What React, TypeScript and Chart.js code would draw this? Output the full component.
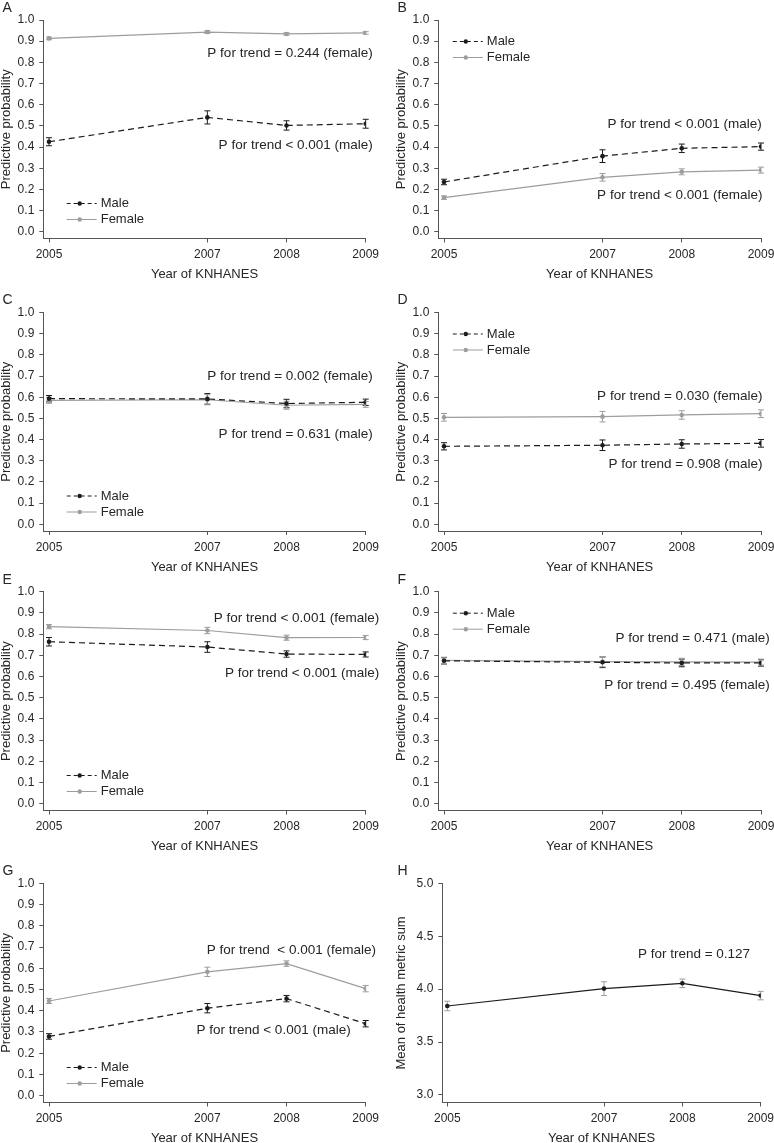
import React, { useEffect, useRef } from "react";
import { Chart, registerables } from "chart.js";

Chart.register(...registerables);

// ---------------- data ----------------
const YEARS = [2005, 2007, 2008, 2009];
const PROB_TICKS = [0, 0.1, 0.2, 0.3, 0.4, 0.5, 0.6, 0.7, 0.8, 0.9, 1.0];
const MEAN_TICKS = [3.0, 3.5, 4.0, 4.5, 5.0];

const maleA = [0.425, 0.54, 0.502, 0.51];
const maleAErr = [0.019, 0.031, 0.022, 0.021];
const femaleA = [0.913, 0.943, 0.934, 0.939];
const femaleAErr = [0.006, 0.007, 0.006, 0.006];

const maleB = [0.235, 0.357, 0.394, 0.402];
const maleBErr = [0.013, 0.03, 0.02, 0.017];
const femaleB = [0.161, 0.257, 0.283, 0.291];
const femaleBErr = [0.008, 0.018, 0.014, 0.014];

const maleC = [0.593, 0.592, 0.57, 0.576];
const maleCErr = [0.015, 0.025, 0.02, 0.015];
const femaleC = [0.585, 0.588, 0.562, 0.566];
const femaleCErr = [0.014, 0.024, 0.019, 0.014];

const maleD = [0.368, 0.373, 0.379, 0.382];
const maleDErr = [0.017, 0.025, 0.02, 0.018];
const femaleD = [0.505, 0.508, 0.516, 0.522];
const femaleDErr = [0.018, 0.025, 0.02, 0.018];

const maleE = [0.764, 0.739, 0.706, 0.704];
const maleEErr = [0.02, 0.025, 0.015, 0.012];
const femaleE = [0.835, 0.817, 0.783, 0.784];
const femaleEErr = [0.01, 0.015, 0.012, 0.01];

const maleF = [0.674, 0.667, 0.664, 0.664];
const maleFErr = [0.015, 0.025, 0.018, 0.015];
const femaleF = [0.676, 0.67, 0.669, 0.668];
const femaleFErr = [0.015, 0.024, 0.017, 0.014];

const maleG = [0.279, 0.412, 0.457, 0.339];
const maleGErr = [0.013, 0.022, 0.015, 0.015];
const femaleG = [0.446, 0.583, 0.622, 0.504];
const femaleGErr = [0.012, 0.022, 0.013, 0.015];

const meanH = [3.841, 4.005, 4.055, 3.939];
const meanHErr = [0.045, 0.065, 0.04, 0.04];

const NOTES_A = ["P for trend = 0.244 (female)", "P for trend < 0.001 (male)"];
const NOTES_B = ["P for trend < 0.001 (male)", "P for trend < 0.001 (female)"];
const NOTES_C = ["P for trend = 0.002 (female)", "P for trend = 0.631 (male)"];
const NOTES_D = ["P for trend = 0.030 (female)", "P for trend = 0.908 (male)"];
const NOTES_E = ["P for trend < 0.001 (female)", "P for trend < 0.001 (male)"];
const NOTES_F = ["P for trend = 0.471 (male)", "P for trend = 0.495 (female)"];
const NOTES_G = ["P for trend  < 0.001 (female)", "P for trend < 0.001 (male)"];
const NOTES_H = ["P for trend = 0.127"];

// ---------------- styles / layout ----------------
const FONT = "'Liberation Sans', Arial, Helvetica, sans-serif";
const MALE_COLOR = "#1c1c1c";
const FEMALE_COLOR = "#9d9d9d";
const AXIS_COLOR = "#555555";
const TEXT_COLOR = "#262626";
const PROB_TITLE = "Predictive probability";
const X_TITLE = "Year of KNHANES";

type Series = {
  values: number[];
  errors: number[];
  color: string;
  errColor: string;
  dash: number[];
  label: string;
};
type Note = { text: string; x: number; y: number };
type Panel = {
  letter: string;
  canvasLeft: number;
  canvasWidth: number;
  left: number;
  right: number;
  top: number;
  bottom: number;
  xMin: number;
  yMin: number;
  yMax: number;
  yTicks: number[];
  yTitle: string;
  series: Series[];
  notes: Note[];
  legend: null | { at: "top" | "bottom"; dx: number };
};

const COL0 = { canvasLeft: 0, canvasWidth: 388, left: 43.3, right: 365.7 };
const COL1 = { canvasLeft: 395, canvasWidth: 379, left: 438.3, right: 761 };
const ROWS = [
  { top: 20, bottom: 238.5 },
  { top: 312.5, bottom: 531 },
  { top: 591.7, bottom: 810.5 },
  { top: 883.3, bottom: 1102.5 },
];
const X_MIN = 2004.928;
const P_MIN = -0.032;

function mf(m: number[], me: number[], f: number[], fe: number[]): Series[] {
  return [
    { values: m, errors: me, color: MALE_COLOR, errColor: MALE_COLOR, dash: [6, 4], label: "Male" },
    { values: f, errors: fe, color: FEMALE_COLOR, errColor: FEMALE_COLOR, dash: [], label: "Female" },
  ];
}

function probPanel(
  letter: string,
  col: typeof COL0,
  row: (typeof ROWS)[number],
  series: Series[],
  notes: Note[],
  legend: { at: "top" | "bottom"; dx: number }
): Panel {
  return {
    letter,
    ...col,
    ...row,
    xMin: X_MIN,
    yMin: P_MIN,
    yMax: 1.0,
    yTicks: PROB_TICKS,
    yTitle: PROB_TITLE,
    series,
    notes,
    legend,
  };
}

const PANELS: Panel[] = [
  probPanel("A", COL0, ROWS[0], mf(maleA, maleAErr, femaleA, femaleAErr),
    [{ text: NOTES_A[0], x: 2009.09, y: 0.843 }, { text: NOTES_A[1], x: 2009.09, y: 0.41 }],
    { at: "bottom", dx: 23.4 }),
  probPanel("B", COL1, ROWS[0], mf(maleB, maleBErr, femaleB, femaleBErr),
    [{ text: NOTES_B[0], x: 2009.01, y: 0.507 }, { text: NOTES_B[1], x: 2009.02, y: 0.173 }],
    { at: "top", dx: 14.5 }),
  probPanel("C", COL0, ROWS[1], mf(maleC, maleCErr, femaleC, femaleCErr),
    [{ text: NOTES_C[0], x: 2009.09, y: 0.7 }, { text: NOTES_C[1], x: 2009.09, y: 0.425 }],
    { at: "bottom", dx: 23.4 }),
  probPanel("D", COL1, ROWS[1], mf(maleD, maleDErr, femaleD, femaleDErr),
    [{ text: NOTES_D[0], x: 2009.02, y: 0.606 }, { text: NOTES_D[1], x: 2009.02, y: 0.285 }],
    { at: "top", dx: 14.5 }),
  probPanel("E", COL0, ROWS[2], mf(maleE, maleEErr, femaleE, femaleEErr),
    [{ text: NOTES_E[0], x: 2009.17, y: 0.874 }, { text: NOTES_E[1], x: 2009.17, y: 0.614 }],
    { at: "bottom", dx: 23.4 }),
  probPanel("F", COL1, ROWS[2], mf(maleF, maleFErr, femaleF, femaleFErr),
    [{ text: NOTES_F[0], x: 2009.11, y: 0.779 }, { text: NOTES_F[1], x: 2009.11, y: 0.559 }],
    { at: "top", dx: 14.5 }),
  probPanel("G", COL0, ROWS[3], mf(maleG, maleGErr, femaleG, femaleGErr),
    [{ text: NOTES_G[0], x: 2009.13, y: 0.685 }, { text: NOTES_G[1], x: 2008.81, y: 0.307 }],
    { at: "bottom", dx: 23.4 }),
  {
    letter: "H",
    canvasLeft: 395,
    canvasWidth: 379,
    left: 442.3,
    right: 760.7,
    ...ROWS[3],
    xMin: 2004.936,
    yMin: 2.929,
    yMax: 5.0,
    yTicks: MEAN_TICKS,
    yTitle: "Mean of health metric sum",
    series: [
      { values: meanH, errors: meanHErr, color: MALE_COLOR, errColor: FEMALE_COLOR, dash: [], label: "Mean" },
    ],
    notes: [{ text: NOTES_H[0], x: 2008.865, y: 4.329 }],
    legend: null,
  },
];

// ---------------- plugin ----------------
const decorPlugin = {
  id: "decor",
  beforeDatasetsDraw(chart: any, _args: any, opts: any) {
    const p: Panel = opts.panel;
    const ctx = chart.ctx;
    const xs = chart.scales.x;
    const ys = chart.scales.y;
    ctx.save();
    p.series.forEach((s) => {
      ctx.strokeStyle = s.errColor;
      ctx.lineWidth = 1;
      ctx.setLineDash([]);
      YEARS.forEach((yr, i) => {
        const x = xs.getPixelForValue(yr);
        const y1 = ys.getPixelForValue(s.values[i] - s.errors[i]);
        const y2 = ys.getPixelForValue(s.values[i] + s.errors[i]);
        ctx.beginPath();
        ctx.moveTo(x, y1);
        ctx.lineTo(x, y2);
        ctx.moveTo(x - 3, y1);
        ctx.lineTo(x + 3, y1);
        ctx.moveTo(x - 3, y2);
        ctx.lineTo(x + 3, y2);
        ctx.stroke();
      });
    });
    ctx.restore();
  },
  afterDraw(chart: any, _args: any, opts: any) {
    const p: Panel = opts.panel;
    const ctx = chart.ctx;
    const area = chart.chartArea;
    const xs = chart.scales.x;
    const ys = chart.scales.y;
    ctx.save();
    // panel letter
    ctx.fillStyle = TEXT_COLOR;
    ctx.font = `14px ${FONT}`;
    ctx.textAlign = "left";
    ctx.textBaseline = "middle";
    ctx.fillText(p.letter, 2.5, area.top - 12);
    // notes
    ctx.font = `13.5px ${FONT}`;
    ctx.textAlign = "right";
    p.notes.forEach((n) => {
      ctx.fillText(n.text, xs.getPixelForValue(n.x), ys.getPixelForValue(n.y));
    });
    // legend
    if (p.legend) {
      const lg = p.legend;
      const x0 = area.left + lg.dx;
      p.series.forEach((s, i) => {
        const y =
          lg.at === "top" ? area.top + 21.5 + i * 16 : area.bottom - 35 + i * 16;
        ctx.strokeStyle = s.color;
        ctx.lineWidth = 1;
        ctx.setLineDash(s.dash.length ? [4, 3] : []);
        ctx.beginPath();
        ctx.moveTo(x0, y);
        ctx.lineTo(x0 + 30, y);
        ctx.stroke();
        ctx.setLineDash([]);
        ctx.fillStyle = s.color;
        ctx.beginPath();
        ctx.arc(x0 + 13, y, 2.2, 0, Math.PI * 2);
        ctx.fill();
        ctx.fillStyle = TEXT_COLOR;
        ctx.font = `13px ${FONT}`;
        ctx.textAlign = "left";
        ctx.textBaseline = "middle";
        ctx.fillText(s.label, x0 + 34, y);
      });
    }
    ctx.restore();
  },
};

// ---------------- component ----------------
function PanelChart({ p }: { p: Panel }) {
  const ref = useRef<HTMLCanvasElement>(null);
  const canvasTop = Math.round(p.top - 20);
  const canvasBottom = Math.min(1143, Math.round(p.bottom + 40.5));
  const height = canvasBottom - canvasTop;
  const padTop = p.top - canvasTop;
  const xH = canvasBottom - p.bottom;
  const yW = p.left - p.canvasLeft;
  const padRight = p.canvasLeft + p.canvasWidth - p.right;
  const titleOffset = xH - 36;

  useEffect(() => {
    const canvas = ref.current!;
    const datasets = p.series.map((s) => ({
      label: s.label,
      data: YEARS.map((yr, i) => ({ x: yr, y: s.values[i] })),
      borderColor: s.color,
      backgroundColor: s.color,
      borderWidth: 1.2,
      borderDash: s.dash,
      pointRadius: 2.3,
      pointHoverRadius: 2.3,
      pointBackgroundColor: s.color,
      pointBorderColor: s.color,
      pointBorderWidth: 0,
      fill: false,
      tension: 0,
    }));
    const chart = new Chart(canvas, {
      type: "line",
      data: { datasets },
      plugins: [decorPlugin as any],
      options: {
        animation: false,
        responsive: false,
        events: [],
        layout: { padding: { left: 0, top: padTop, right: padRight, bottom: 0 } },
        plugins: {
          legend: { display: false },
          tooltip: { enabled: false },
          decor: { panel: p },
        } as any,
        scales: {
          x: {
            type: "linear",
            min: p.xMin,
            max: 2009,
            afterBuildTicks: (scale: any) => {
              scale.ticks = YEARS.map((v) => ({ value: v }));
            },
            afterFit: (scale: any) => {
              scale.height = xH;
              scale.paddingLeft = 0;
              scale.paddingRight = 0;
            },
            ticks: {
              autoSkip: false,
              maxRotation: 0,
              padding: 5,
              color: TEXT_COLOR,
              font: { family: FONT, size: 12 },
              callback: (v: any) => String(v),
            },
            grid: {
              display: true,
              drawOnChartArea: false,
              drawTicks: true,
              tickLength: 4,
              color: AXIS_COLOR,
              tickColor: AXIS_COLOR,
            },
            border: { display: true, color: AXIS_COLOR, width: 1 },
            title: {
              display: true,
              text: X_TITLE,
              color: TEXT_COLOR,
              font: { family: FONT, size: 13, lineHeight: (2 * titleOffset) / 13 },
              padding: 0,
            },
          },
          y: {
            type: "linear",
            min: p.yMin,
            max: p.yMax,
            afterBuildTicks: (scale: any) => {
              scale.ticks = p.yTicks.map((v) => ({ value: v }));
            },
            afterFit: (scale: any) => {
              scale.width = yW;
              scale.paddingTop = 0;
              scale.paddingBottom = 0;
            },
            ticks: {
              autoSkip: false,
              padding: 5,
              color: TEXT_COLOR,
              font: { family: FONT, size: 12 },
              callback: (v: any) => Number(v).toFixed(1),
            },
            grid: {
              display: true,
              drawOnChartArea: false,
              drawTicks: true,
              tickLength: 4,
              color: AXIS_COLOR,
              tickColor: AXIS_COLOR,
            },
            border: { display: true, color: AXIS_COLOR, width: 1 },
            title: {
              display: true,
              text: p.yTitle,
              color: TEXT_COLOR,
              font: { family: FONT, size: 13, lineHeight: 1 },
              padding: 0,
            },
          },
        },
      } as any,
    });
    return () => chart.destroy();
  }, [p]);

  return (
    <canvas
      ref={ref}
      width={p.canvasWidth}
      height={height}
      style={{
        position: "absolute",
        left: p.canvasLeft,
        top: canvasTop,
        width: p.canvasWidth,
        height: height,
        display: "block",
      }}
    />
  );
}

export default function App() {
  return (
    <div
      style={{
        position: "absolute",
        left: 0,
        top: 0,
        width: 774,
        height: 1143,
        overflow: "hidden",
        background: "#ffffff",
      }}
    >
      {PANELS.map((p) => (
        <PanelChart key={p.letter} p={p} />
      ))}
    </div>
  );
}
